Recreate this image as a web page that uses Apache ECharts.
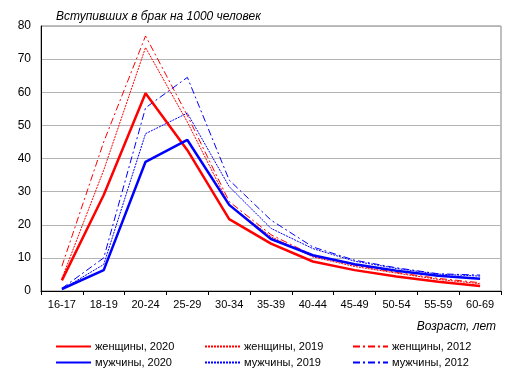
<!DOCTYPE html>
<html>
<head>
<meta charset="utf-8">
<script src="https://cdn.jsdelivr.net/npm/echarts@6/dist/echarts.min.js"></script>
<style>
  html, body { margin: 0; padding: 0; background: #fff; }
  #chart { width: 515px; height: 377px; }
</style>
</head>
<body>
<div id="chart"></div>
<script>
  // age groups
  var categories = ['16-17', '18-19', '20-24', '25-29', '30-34', '35-39', '40-44', '45-49', '50-54', '55-59', '60-69'];
  var yTicks = [0, 10, 20, 30, 40, 50, 60, 70, 80];

  // marriages per 1000 people
  var women2020 = [3.2, 29, 59.7, 42.5, 21.7, 14.3, 8.9, 6.3, 4.4, 2.8, 1.5];
  var women2019 = [3.8, 36.5, 73.5, 51, 26, 16.4, 10.3, 7.4, 5.4, 3.5, 2.2];
  var women2012 = [7.5, 45, 77, 53, 27, 17, 10.8, 7.8, 5.6, 3.8, 2.5];
  var men2020 = [0.6, 6.3, 39, 45.6, 26, 15.7, 10.8, 8.1, 6.1, 4.6, 3.7];
  var men2019 = [0.5, 8, 47.5, 53.7, 31.5, 18.9, 12.8, 9, 6.8, 5.1, 4.5];
  var men2012 = [0.8, 10, 55.3, 64.5, 33.5, 21.4, 13.3, 9.3, 7, 5.2, 4.8];

  var RED = '#ff0000', BLUE = '#0000ff';
  var FONT = '"Liberation Sans", Arial, sans-serif';

  function mkSeries(name, data, color, width, type) {
      return {
          name: name,
          type: 'line',
          data: data,
          symbol: 'none',
          z: width > 1 ? 3 : 2,
          lineStyle: { color: color, width: width, type: type },
          itemStyle: { color: color },
          emphasis: { disabled: true }
      };
  }

  function mkLegend(name, left, top) {
      return {
          data: [name],
          left: left,
          top: top,
          itemWidth: 35,
          itemHeight: 8,
          itemGap: 4,
          padding: 0,
          selectedMode: false,
          itemStyle: { opacity: 0 },
          textStyle: { fontFamily: FONT, fontSize: 11, color: '#000', padding: [0, 0, 0, -1] }
      };
  }

  var chart = echarts.init(document.getElementById('chart'), null, { renderer: 'canvas' });

  var option = {
      animation: false,
      backgroundColor: '#fff',
      grid: {
          left: 41, right: 14, top: 26, bottom: 86,
          show: true, borderColor: '#808080', borderWidth: 1
      },
      title: [{
          text: 'Вступивших в брак на 1000 человек',
          left: 56, top: 11, padding: 0,
          textStyle: { fontFamily: FONT, fontSize: 12, fontStyle: 'italic', fontWeight: 'normal', color: '#000' }
      }, {
          text: 'Возраст, лет',
          right: 19, top: 321, padding: 0,
          textStyle: { fontFamily: FONT, fontSize: 12, fontStyle: 'italic', fontWeight: 'normal', color: '#000' }
      }],
      legend: [
          mkLegend('женщины, 2020', 55, 341),
          mkLegend('женщины, 2019', 204, 341),
          mkLegend('женщины, 2012', 352, 341),
          mkLegend('мужчины, 2020', 55, 357),
          mkLegend('мужчины, 2019', 204, 357),
          mkLegend('мужчины, 2012', 352, 357)
      ],
      xAxis: {
          type: 'category',
          data: categories,
          boundaryGap: true,
          axisLine: { lineStyle: { color: '#000', width: 1 } },
          axisTick: { show: true, length: 4, lineStyle: { color: '#000' } },
          axisLabel: { fontFamily: FONT, fontSize: 11, color: '#000', margin: 8, interval: 0 },
          splitLine: { show: false }
      },
      yAxis: {
          type: 'value',
          min: yTicks[0],
          max: yTicks[yTicks.length - 1],
          interval: 10,
          axisLine: { show: true, lineStyle: { color: '#000', width: 1 } },
          axisTick: { show: false },
          axisLabel: { fontFamily: FONT, fontSize: 12, color: '#000', margin: 10 },
          splitLine: { show: true, lineStyle: { color: '#b4b4b4', width: 1 } }
      },
      series: [
          mkSeries('женщины, 2012', women2012, RED, 1, [7, 3, 2, 3]),
          mkSeries('мужчины, 2012', men2012, BLUE, 1, [7, 3, 2, 3]),
          mkSeries('женщины, 2019', women2019, RED, 1, [2, 1]),
          mkSeries('мужчины, 2019', men2019, BLUE, 1, [2, 1]),
          mkSeries('женщины, 2020', women2020, RED, 2.5, 'solid'),
          mkSeries('мужчины, 2020', men2020, BLUE, 2.5, 'solid')
      ]
  };

  chart.setOption(option);
</script>
</body>
</html>
